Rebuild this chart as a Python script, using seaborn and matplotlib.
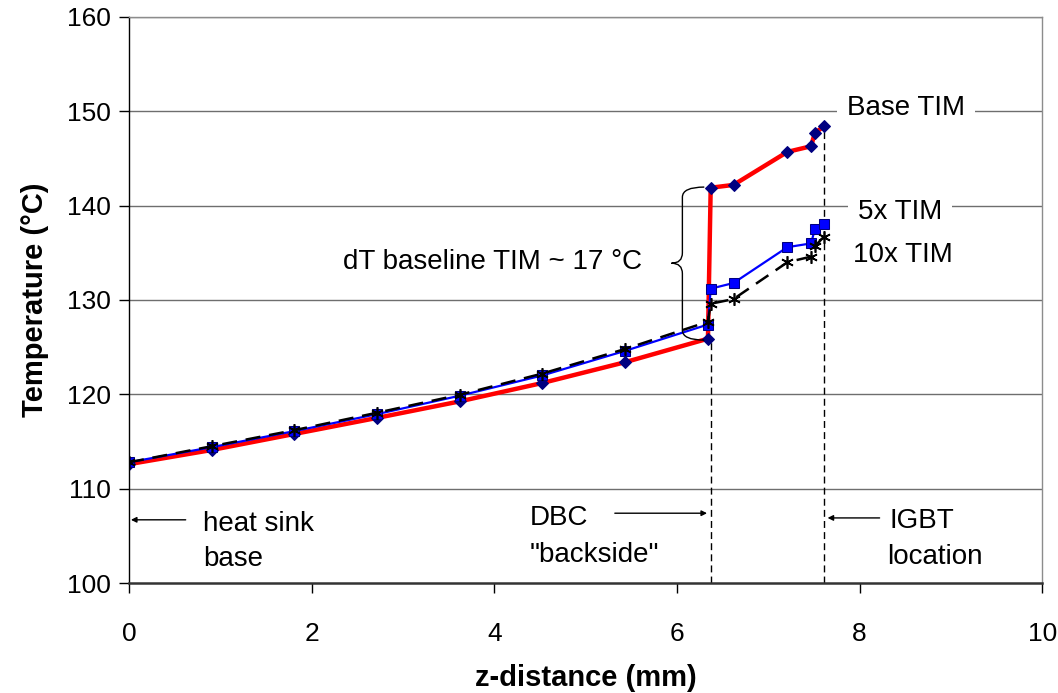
import matplotlib
matplotlib.use("Agg")
import matplotlib.pyplot as plt
import seaborn as sns
import numpy as np
from matplotlib.path import Path
from matplotlib.patches import PathPatch

# data
z_mm = [0, 0.905, 1.81, 2.715, 3.62, 4.525, 5.43, 6.34, 6.37, 6.62, 7.21, 7.47, 7.51, 7.61]
t_base_tim = [112.6, 114.1, 115.8, 117.5, 119.25, 121.2, 123.4, 125.9,
              141.9, 142.2, 145.7, 146.3, 147.7, 148.4]
t_5x_tim = [112.8, 114.4, 116.1, 117.9, 119.85, 122.0, 124.6, 127.4,
            131.2, 131.8, 135.6, 136.0, 137.5, 138.1]
t_10x_tim = [112.8, 114.5, 116.2, 118.05, 119.95, 122.2, 124.8, 127.7,
             129.6, 130.1, 134.0, 134.6, 135.7, 136.7]

dbc_z = 6.37
igbt_z = 7.61

sns.set_style("white")
plt.rcParams['font.family'] = ['Liberation Sans', 'DejaVu Sans']
plt.rcParams['text.color'] = 'black'
plt.rcParams['axes.labelcolor'] = 'black'
plt.rcParams['xtick.color'] = 'black'
plt.rcParams['ytick.color'] = 'black'

fig = plt.figure(figsize=(10.58, 6.93), dpi=100)
ax = fig.add_axes([0.122, 0.1587, 0.863, 0.8168])

# gridlines first so lines sit on top
for yv in [110, 120, 130, 140, 150, 160]:
    ax.axhline(yv, color='#6e6e6e', linewidth=1.0, zorder=0)

# guide lines down to the axis
ax.vlines(dbc_z, 100, t_base_tim[7], colors='black', linestyles=(0, (5, 3)), linewidth=1.0, zorder=1)
ax.vlines(igbt_z, 100, t_base_tim[-1], colors='black', linestyles=(0, (5, 3)), linewidth=1.0, zorder=1)

sns.lineplot(x=z_mm, y=t_base_tim, ax=ax, sort=False, estimator=None,
             color='#ff0000', linewidth=3.2, marker='D', markersize=6,
             markerfacecolor='#000080', markeredgecolor='#000080', zorder=2)
sns.lineplot(x=z_mm, y=t_5x_tim, ax=ax, sort=False, estimator=None,
             color='#0000ff', linewidth=1.6, marker='s', markersize=7,
             markerfacecolor='#0000ff', markeredgecolor='#000080', zorder=3)
sns.lineplot(x=z_mm, y=t_10x_tim, ax=ax, sort=False, estimator=None,
             color='black', linewidth=1.8, linestyle=(0, (6, 3.5)),
             marker=(6, 2, 0), markersize=9, markeredgewidth=1.2,
             markeredgecolor='black', zorder=4)

ax.set_xlim(0, 10)
ax.set_ylim(100, 160)
ax.set_xticks([0, 2, 4, 6, 8, 10])
ax.set_yticks([100, 110, 120, 130, 140, 150, 160])
ax.tick_params(axis='both', direction='out', length=7, width=1, labelsize=19,
               color='black', labelcolor='black', bottom=True, left=True)
ax.tick_params(axis='x', pad=21)
ax.tick_params(axis='y', pad=6)

ax.set_xlabel('z-distance (mm)', fontsize=21, fontweight='bold', labelpad=13)
ax.set_ylabel('Temperature (°C)', fontsize=21, fontweight='bold', labelpad=13)

for side in ['top', 'right']:
    ax.spines[side].set_color('#8c8c8c')
    ax.spines[side].set_linewidth(1.0)
ax.spines['left'].set_color('black')
ax.spines['left'].set_linewidth(1.0)
ax.spines['bottom'].set_color('#333333')
ax.spines['bottom'].set_linewidth(1.8)

# series labels
ax.text(8.51, 150.4, 'Base TIM', fontsize=20, ha='center', va='center',
        bbox=dict(facecolor='white', edgecolor='none', pad=7), zorder=5)
ax.text(8.44, 139.3, '5x TIM', fontsize=20, ha='center', va='center',
        bbox=dict(facecolor='white', edgecolor='none', pad=7), zorder=5)
ax.text(8.47, 134.8, '10x TIM', fontsize=20, ha='center', va='center', zorder=5)

ax.text(3.98, 134.0, 'dT baseline TIM ~ 17 °C', fontsize=20, ha='center', va='center', zorder=5)

# curly brace next to the jump
verts = [(6.30, 141.97), (6.06, 141.97), (6.06, 140.9),
         (6.06, 135.0),
         (6.06, 133.9), (5.94, 133.9),
         (6.06, 133.9), (6.06, 132.8),
         (6.06, 126.8),
         (6.06, 125.75), (6.30, 125.75)]
codes = [Path.MOVETO, Path.CURVE3, Path.CURVE3,
         Path.LINETO,
         Path.CURVE3, Path.CURVE3,
         Path.CURVE3, Path.CURVE3,
         Path.LINETO,
         Path.CURVE3, Path.CURVE3]
ax.add_patch(PathPatch(Path(verts, codes), facecolor='none', edgecolor='black',
                       linewidth=1.0, zorder=5))

# location annotations
arrow = dict(arrowstyle='-|>', color='black', linewidth=1.0, mutation_scale=8,
             shrinkA=0, shrinkB=0)
ax.annotate('', xy=(0.02, 106.7), xytext=(0.62, 106.7), arrowprops=arrow)
ax.text(0.81, 106.3, 'heat sink', fontsize=20, ha='left', va='center')
ax.text(0.81, 102.5, 'base', fontsize=20, ha='left', va='center')

ax.annotate('', xy=(6.33, 107.4), xytext=(5.32, 107.4), arrowprops=arrow)
ax.text(4.39, 106.9, 'DBC', fontsize=20, ha='left', va='center')
ax.text(4.39, 102.95, '"backside"', fontsize=20, ha='left', va='center')

ax.annotate('', xy=(7.65, 106.9), xytext=(8.22, 106.9), arrowprops=arrow)
ax.text(8.33, 106.6, 'IGBT', fontsize=20, ha='left', va='center')
ax.text(8.30, 102.8, 'location', fontsize=20, ha='left', va='center')

plt.savefig('out.png', dpi=100)
